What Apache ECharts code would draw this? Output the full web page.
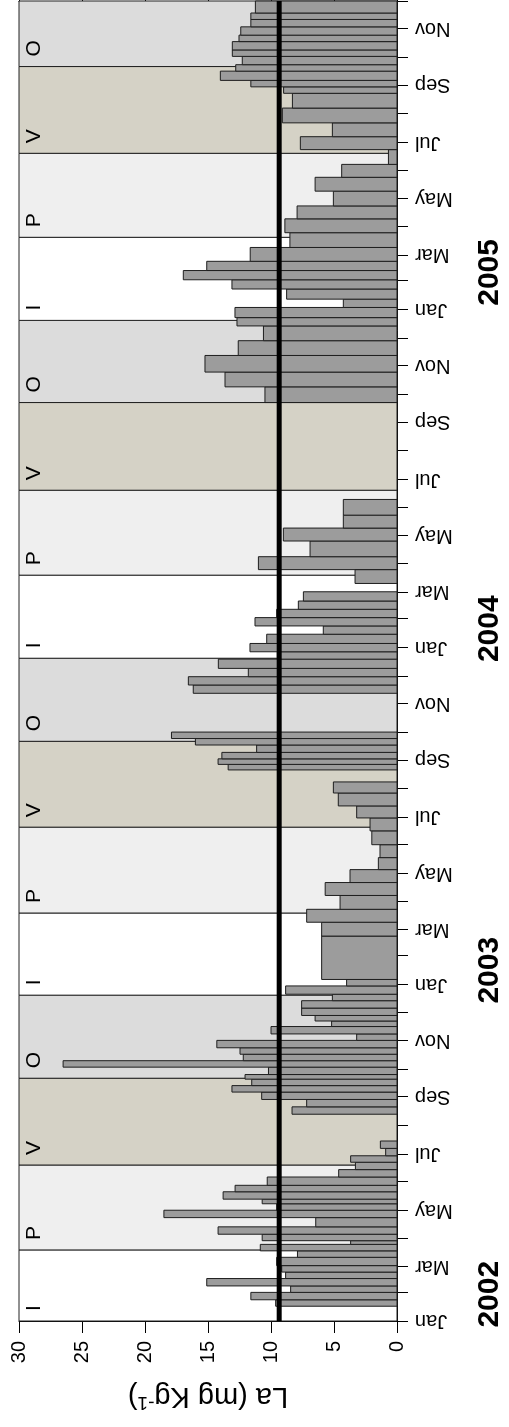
<!DOCTYPE html>
<html><head><meta charset="utf-8">
<script src="https://cdn.jsdelivr.net/npm/echarts@6/dist/echarts.min.js"></script>
<style>html,body{margin:0;padding:0;background:#fff}#c{width:509px;height:1427px}</style>
</head><body><div id="c"></div>
<script>
const FONT = "'Liberation Sans', Arial, Helvetica, sans-serif";
const monthNames = ['Jan','Feb','Mar','Apr','May','Jun','Jul','Aug','Sep','Oct','Nov','Dec'];
const valueMin = 0, valueMax = 30, valueStep = 5;
const axisStart = '2002-01-01', axisEnd = '2005-12-01';
const axisName = 'La (mg Kg';
const axisNameSup = '-1';

const seasonLabel = ['I','P','V','O','I','P','V','O','I','P','V','O','I','P','V','O'];
const seasonStart = ['2002-01-01','2002-03-19','2002-06-19','2002-09-21','2002-12-20','2003-03-19','2003-06-20','2003-09-21',
                     '2003-12-20','2004-03-19','2004-06-19','2004-09-22','2004-12-20','2005-03-20','2005-06-19','2005-09-21'];
const seasonEnd   = ['2002-03-19','2002-06-19','2002-09-21','2002-12-20','2003-03-19','2003-06-20','2003-09-21','2003-12-20',
                     '2004-03-19','2004-06-19','2004-09-22','2004-12-20','2005-03-20','2005-06-19','2005-09-21','2005-12-01'];
const seasonColor = {I:'#ffffff', P:'#efefef', V:'#d5d2c6', O:'#dcdcdc'};

const barStart = [
 '2002-01-17','2002-01-24','2002-02-01','2002-02-08','2002-02-16','2002-02-23','2002-03-02','2002-03-11','2002-03-18','2002-03-25',
 '2002-03-29','2002-04-05','2002-04-13','2002-04-23','2002-05-01','2002-05-08','2002-05-13','2002-05-21','2002-05-28','2002-06-06',
 '2002-06-14','2002-06-22','2002-06-29','2002-07-07',
 '2002-08-13','2002-08-21','2002-08-29','2002-09-06','2002-09-13','2002-09-20','2002-09-25','2002-10-03','2002-10-10','2002-10-17',
 '2002-10-24','2002-11-01','2002-11-08','2002-11-16','2002-11-22','2002-11-28','2002-12-06','2002-12-14','2002-12-21','2002-12-30',
 '2003-01-06','2003-02-22','2003-03-09','2003-03-23','2003-04-07','2003-04-21','2003-05-05','2003-05-18','2003-06-01','2003-06-16',
 '2003-06-30','2003-07-13','2003-07-27',
 '2003-08-21','2003-08-27','2003-09-02','2003-09-09','2003-09-17','2003-09-24',
 '2003-11-12','2003-11-21','2003-11-30','2003-12-09','2003-12-19','2003-12-27','2004-01-05','2004-01-15','2004-01-24','2004-02-02',
 '2004-02-11','2004-02-20',
 '2004-03-10','2004-03-25','2004-04-08','2004-04-25','2004-05-09','2004-05-23',
 '2004-09-22','2004-10-09','2004-10-25','2004-11-12','2004-11-28','2004-12-14','2004-12-23','2005-01-03','2005-01-12','2005-01-23',
 '2005-02-02','2005-02-12','2005-02-22','2005-03-09','2005-03-25','2005-04-09','2005-04-23','2005-05-09','2005-05-24','2005-06-07',
 '2005-06-23','2005-07-07','2005-07-22','2005-08-07','2005-08-23','2005-08-30','2005-09-06','2005-09-16','2005-09-23','2005-10-02',
 '2005-10-09','2005-10-18','2005-10-25','2005-11-03','2005-11-11','2005-11-18'];
const barEnd = [
 '2002-01-24','2002-02-01','2002-02-08','2002-02-16','2002-02-23','2002-03-02','2002-03-11','2002-03-18','2002-03-25','2002-03-29',
 '2002-04-05','2002-04-13','2002-04-23','2002-05-01','2002-05-08','2002-05-13','2002-05-21','2002-05-28','2002-06-06','2002-06-14',
 '2002-06-22','2002-06-29','2002-07-07','2002-07-15',
 '2002-08-21','2002-08-29','2002-09-06','2002-09-13','2002-09-20','2002-09-25','2002-10-03','2002-10-10','2002-10-17','2002-10-24',
 '2002-11-01','2002-11-08','2002-11-16','2002-11-22','2002-11-28','2002-12-06','2002-12-14','2002-12-21','2002-12-30','2003-01-06',
 '2003-02-22','2003-03-09','2003-03-23','2003-04-07','2003-04-21','2003-05-05','2003-05-18','2003-06-01','2003-06-16','2003-06-30',
 '2003-07-13','2003-07-27','2003-08-08',
 '2003-08-27','2003-09-02','2003-09-09','2003-09-17','2003-09-24','2003-10-01',
 '2003-11-21','2003-11-30','2003-12-09','2003-12-19','2003-12-27','2004-01-05','2004-01-15','2004-01-24','2004-02-02','2004-02-11',
 '2004-02-20','2004-03-01',
 '2004-03-25','2004-04-08','2004-04-25','2004-05-09','2004-05-23','2004-06-09',
 '2004-10-09','2004-10-25','2004-11-12','2004-11-28','2004-12-14','2004-12-23','2005-01-03','2005-01-12','2005-01-23','2005-02-02',
 '2005-02-12','2005-02-22','2005-03-09','2005-03-25','2005-04-09','2005-04-23','2005-05-09','2005-05-24','2005-06-07','2005-06-23',
 '2005-07-07','2005-07-22','2005-08-07','2005-08-23','2005-08-30','2005-09-06','2005-09-16','2005-09-23','2005-10-02','2005-10-09',
 '2005-10-18','2005-10-25','2005-11-03','2005-11-11','2005-11-18','2005-12-01'];
const barValue = [
 9.63, 11.6, 8.44, 15.1, 8.84, 9.15, 9.55, 7.9, 10.85, 3.68,
 10.7, 14.2, 6.45, 18.5, 9.55, 10.7, 13.8, 12.85, 10.3, 4.63,
 3.3, 3.68, 0.9, 1.32,
 8.33, 7.17, 10.74, 13.1, 11.53, 12.06, 10.2, 26.5, 12.2, 12.46,
 14.3, 3.2, 10.0, 5.19, 6.5, 7.57, 7.57, 5.13, 8.84, 4.0,
 5.98, 5.98, 7.17, 4.52, 5.7, 3.73, 1.48, 1.35, 2.0, 2.14,
 3.2, 4.66, 5.05,
 13.4, 14.2, 13.9, 11.14, 16.0, 17.9,
 16.17, 16.56, 11.8, 14.18, 9.5, 11.67, 10.34, 5.85, 11.27, 9.55,
 7.83, 7.43,
 3.33, 11.0, 6.9, 9.02, 4.26, 4.26,
 10.48, 13.65, 15.24, 12.6, 10.6, 12.7, 12.86, 4.26, 8.76, 13.1,
 16.96, 15.1, 11.65, 8.5, 8.9, 7.93, 5.05, 6.5, 4.39, 0.68,
 7.67, 5.13, 9.1, 8.3, 9.0, 11.6, 14.02, 12.8, 12.28, 13.07,
 13.07, 12.54, 12.4, 11.6, 11.6, 11.24];
const meanValue = 9.35;
const yearLabels = ['2002','2003','2004','2005'];
const yearLabelDate = ['2002-01-30','2003-01-16','2004-01-21','2005-02-10'];

const t = s => Date.parse(s + 'T00:00:00Z');
const monthTicks = [], monthLabelTicks = [];
for (let y = 2002; y <= 2005; y++) for (let m = 0; m < 12; m++) {
  const v = Date.UTC(y, m, 1);
  if (v > t(axisEnd)) continue;
  monthTicks.push(v);
  if (m % 2 === 0) monthLabelTicks.push(v);
}

const chart = echarts.init(document.getElementById('c'), null, {renderer: 'canvas'});
const seasonData = seasonLabel.map((l, i) => [t(seasonStart[i]), t(seasonEnd[i]), i]);
const barData = barValue.map((v, i) => [t(barStart[i]), t(barEnd[i]), v]);
const yearData = yearLabels.map((l, i) => [t(yearLabelDate[i]), i]);

chart.setOption({
  animation: false,
  backgroundColor: '#ffffff',
  grid: {left: 19, right: 112, top: 1, bottom: 106},
  xAxis: [{
    type: 'value', inverse: true, min: valueMin, max: valueMax, interval: valueStep, position: 'bottom',
    axisLine: {show: true, lineStyle: {color: '#000', width: 1}},
    axisTick: {show: true, length: 12, lineStyle: {color: '#000'}},
    splitLine: {show: false},
    axisLabel: {rotate: 90, margin: 20, fontSize: 20, color: '#000', fontFamily: FONT},
    name: '{a|' + axisName + '}{s|' + axisNameSup + '}{a|)}',
    nameLocation: 'middle', nameRotate: 180, nameGap: 58,
    nameTextStyle: {rich: {a: {fontSize: 29, fontFamily: FONT, color: '#000'},
                           s: {fontSize: 19, fontFamily: FONT, color: '#000', verticalAlign: 'bottom', padding: [0,0,14,0]}}}
  }, {
    type: 'value', inverse: true, min: valueMin, max: valueMax, interval: valueStep, position: 'top',
    axisLine: {show: true, lineStyle: {color: '#000', width: 1}},
    axisTick: {show: true, length: 12, lineStyle: {color: '#000'}},
    splitLine: {show: false}, axisLabel: {show: false}
  }],
  yAxis: {
    type: 'value', min: t(axisStart), max: t(axisEnd), position: 'right',
    axisLine: {show: true, lineStyle: {color: '#000', width: 1}},
    axisTick: {show: true, length: 11, customValues: monthTicks, lineStyle: {color: '#000'}},
    splitLine: {show: false},
    axisLabel: {customValues: monthLabelTicks, rotate: 180, margin: 18, fontSize: 20, color: '#000', fontFamily: FONT,
                formatter: v => monthNames[new Date(v).getUTCMonth()]}
  },
  series: [{
    type: 'custom', name: 'seasons', silent: true, z: 1,
    encode: {x: -1, y: [0, 1]},
    data: seasonData,
    renderItem: (params, api) => {
      const s = api.value(0), e = api.value(1), i = api.value(2);
      const lab = seasonLabel[i];
      const pTop = api.coord([valueMax, e]);
      const pBot = api.coord([valueMin, s]);
      return {type: 'group', children: [
        {type: 'rect', shape: {x: pTop[0], y: pTop[1], width: pBot[0] - pTop[0], height: pBot[1] - pTop[1]},
         style: {fill: seasonColor[lab], stroke: '#222', lineWidth: 1}},
        {type: 'text', x: pTop[0] + 5, y: pBot[1] - 10, rotation: Math.PI / 2,
         style: {text: lab, fontSize: 21, fontFamily: FONT, fill: '#000', textAlign: 'left', textVerticalAlign: 'top'}}
      ]};
    }
  }, {
    type: 'custom', name: 'La', z: 2,
    encode: {x: 2, y: [0, 1]},
    data: barData,
    renderItem: (params, api) => {
      const s = api.value(0), e = api.value(1), v = api.value(2);
      const p1 = api.coord([v, e]);
      const p0 = api.coord([0, s]);
      return {type: 'rect', shape: {x: p1[0], y: p1[1], width: p0[0] - p1[0], height: p0[1] - p1[1]},
              style: {fill: '#9c9c9c', stroke: '#1e1e1e', lineWidth: 1}};
    }
  }, {
    type: 'line', name: 'mean', z: 3, symbol: 'none', silent: true,
    data: [[meanValue, t(axisStart)], [meanValue, t(axisEnd)]],
    lineStyle: {color: '#000', width: 5}
  }, {
    type: 'custom', name: 'years', z: 4, silent: true,
    encode: {x: -1, y: 0},
    data: yearData,
    renderItem: (params, api) => {
      const d = api.value(0), i = api.value(1);
      const p = api.coord([valueMin, d]);
      return {type: 'text', x: p[0] + 78, y: p[1], rotation: Math.PI / 2,
              style: {text: yearLabels[i], fontSize: 30, fontWeight: 'bold', fontFamily: FONT, fill: '#000',
                      textAlign: 'center', textVerticalAlign: 'top'}};
    }
  }]
});
</script></body></html>
